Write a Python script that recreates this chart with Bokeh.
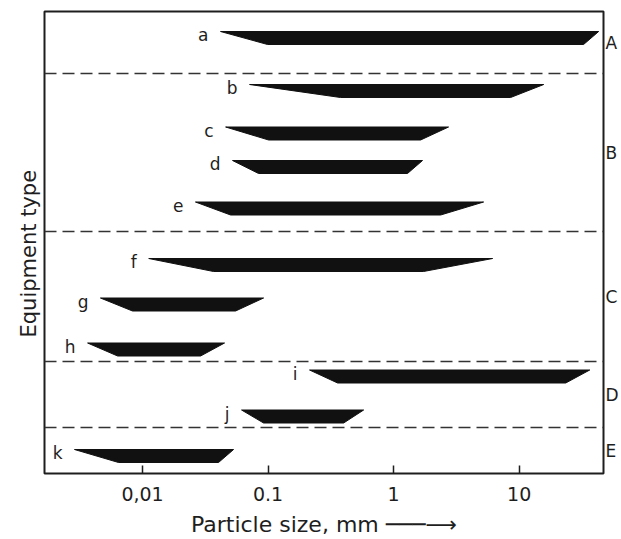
import numpy as np
from bokeh.plotting import figure
from bokeh.models import Range1d, FixedTicker, Span, LinearAxis, ColumnDataSource, Title
from bokeh.embed import file_html
from bokeh.resources import INLINE
from bokeh.core.properties import value

# ---------------- data ----------------
equipment = ["a", "b", "c", "d", "e", "f", "g", "h", "i", "j", "k"]
size_min = [0.0418, 0.0712, 0.0459, 0.0521, 0.0264, 0.0112, 0.00462, 0.00365, 0.214, 0.0615, 0.00287]
optimum_low = [0.0991, 0.378, 0.101, 0.0840, 0.0503, 0.0368, 0.00832, 0.00633, 0.358, 0.0921, 0.00644]
optimum_high = [32.6, 8.55, 1.64, 1.29, 2.37, 1.73, 0.0551, 0.0290, 23.5, 0.400, 0.0403]
size_max = [43.0, 15.7, 2.74, 1.70, 5.21, 6.15, 0.0921, 0.0450, 36.5, 0.577, 0.0531]
row_pos = [37.5, 90.5, 133, 166.5, 208, 264.5, 304, 349, 376, 416, 455.5]

groups = ["A", "B", "C", "D", "E"]
group_bounds = [11, 73, 231, 361, 427, 473]

tick_values = [0.01, 0.1, 1, 10]
tick_labels = ["0,01", "0.1", "1", "10"]

# ---------------- styling ----------------
FONT = "DejaVu Sans"
INK = "#1e1e1e"
BAR_H = 13

x_lo, x_hi = 10 ** -2.781, 10 ** 1.672
y_bottom, y_top = group_bounds[-1], group_bounds[0]

p = figure(width=621, height=539, x_axis_type="log",
           x_range=Range1d(x_lo, x_hi), y_range=Range1d(y_bottom, y_top),
           output_backend="svg", toolbar_location=None,
           min_border_left=44, min_border_right=17,
           min_border_top=11, min_border_bottom=66)
p.grid.visible = False
p.outline_line_color = INK
p.outline_line_width = 2
p.background_fill_color = "white"
p.border_fill_color = "white"

# bottom axis: decade ticks inside the frame
ax = p.xaxis[0]
ax.ticker = FixedTicker(ticks=tick_values, minor_ticks=[])
ax.major_label_overrides = {v: s for v, s in zip(tick_values, tick_labels)}
ax.axis_line_color = None
ax.major_tick_in = 8
ax.major_tick_out = 0
ax.major_tick_line_width = 1.5
ax.major_tick_line_color = INK
ax.minor_tick_line_color = None
ax.major_label_standoff = 13
ax.major_label_text_font = FONT
ax.major_label_text_font_size = "19px"
ax.major_label_text_color = INK
ax.axis_label = "Particle size, mm \u2500\u2500\u2500\u27f6"
ax.axis_label_standoff = 8
ax.axis_label_text_font = FONT
ax.axis_label_text_font_size = "22px"
ax.axis_label_text_font_style = "normal"
ax.axis_label_text_color = INK

# left side: no axis, only the title (starting low, reading upwards)
p.yaxis.visible = False
p.add_layout(Title(text="Equipment type", align="left", offset=136, standoff=8,
                   text_font=FONT, text_font_size="21px",
                   text_font_style="normal", text_color=INK), "left")

# right axis: group letters at the middle of each band
mids = [(a + b) / 2 for a, b in zip(group_bounds[:-1], group_bounds[1:])]
ra = LinearAxis(ticker=FixedTicker(ticks=mids, minor_ticks=[]),
                major_label_overrides={m: g for m, g in zip(mids, groups)},
                axis_line_color=None, major_tick_line_color=None,
                minor_tick_line_color=None, major_tick_out=0, major_tick_in=0,
                major_label_standoff=2, major_label_text_font=FONT,
                major_label_text_font_size="17px", major_label_text_color=INK)
p.add_layout(ra, "right")

# trapezoid bars: wide top edge (full range), narrower bottom edge
xs, ys = [], []
for mn, lo, hi, mx, yc in zip(size_min, optimum_low, optimum_high, size_max, row_pos):
    xs.append([mn, mx, hi, lo])
    ys.append([yc - BAR_H / 2, yc - BAR_H / 2, yc + BAR_H / 2, yc + BAR_H / 2])
p.patches(xs=xs, ys=ys, fill_color="#111111", line_color="#111111", line_width=1)

# bar letters
src = ColumnDataSource(dict(x=size_min, y=row_pos, t=equipment))
p.text(x="x", y="y", text="t", source=src, x_offset=-12, y_offset=-3,
       text_align="right", text_baseline="middle",
       text_font=value(FONT), text_font_size="17px", text_color=INK)

# dashed group dividers
for b in group_bounds[1:-1]:
    p.add_layout(Span(location=b, dimension="width", line_color="#333333",
                      line_width=1.5, line_dash="12 6"))

open("out.html", "w").write(file_html(p, INLINE))
